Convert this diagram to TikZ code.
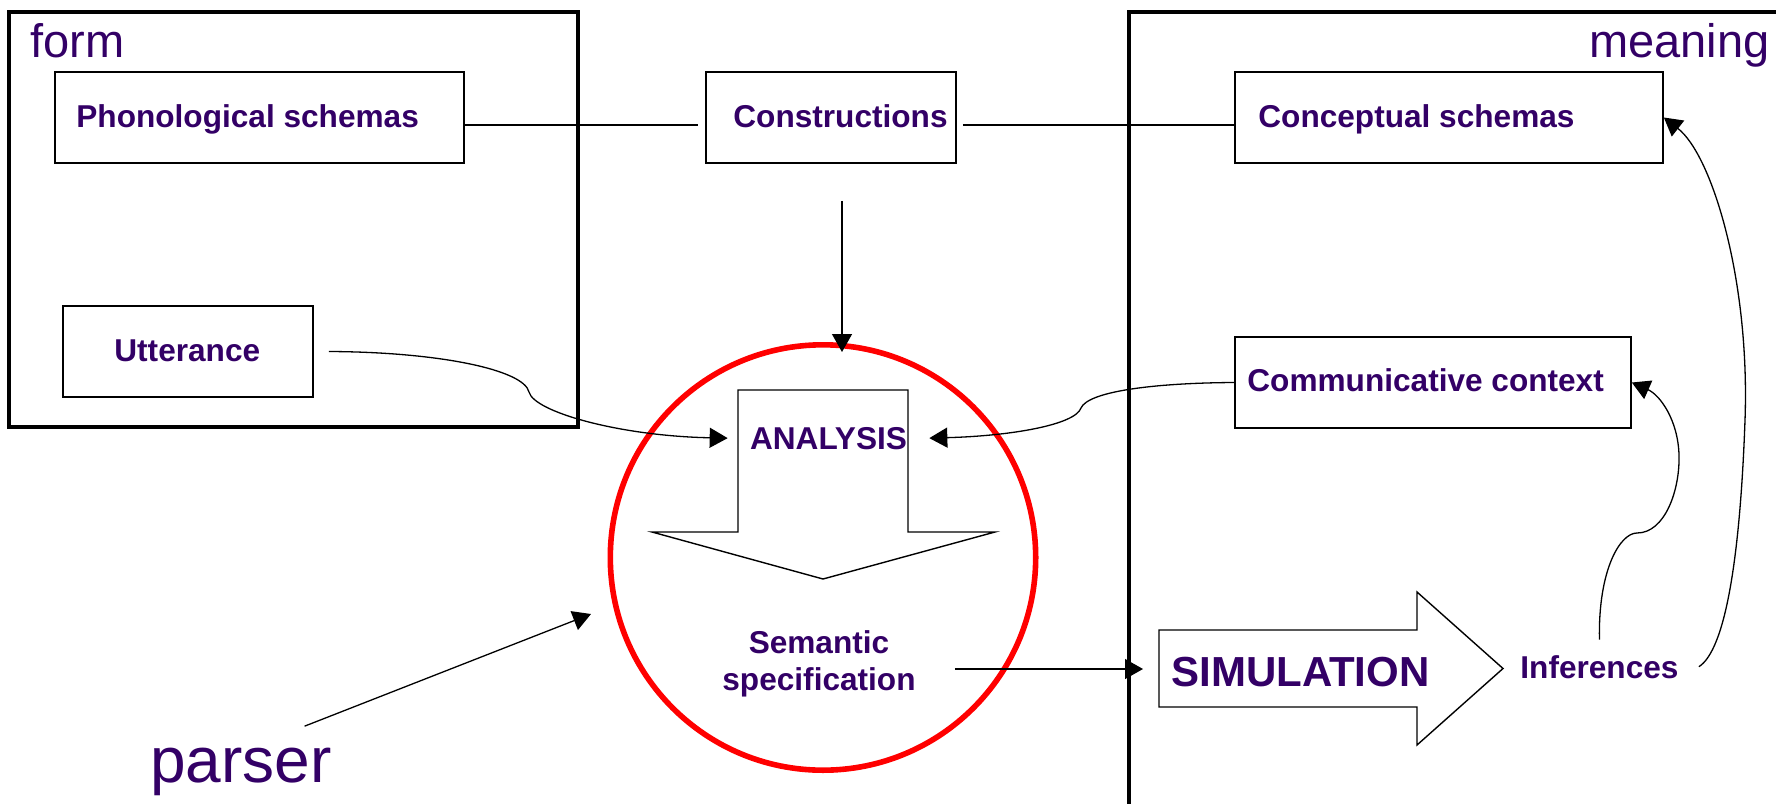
\documentclass[tikz,border=0pt]{standalone}
\usepackage{fontspec}
\setmainfont{Liberation Sans}
\usetikzlibrary{arrows.meta,fit,calc}
\definecolor{ink}{RGB}{51,0,102}
\begin{document}
\begin{tikzpicture}[x=0.5pt,y=-0.5pt,
  every node/.style={text=ink},
  lbl/.style={font=\bfseries\fontsize{15.8}{18.5}\selectfont, inner sep=0pt},
  big/.style={font=\fontsize{23.5}{28}\selectfont, inner sep=0pt},
  box/.style={draw, line width=0.8pt, inner sep=0pt},
  frame/.style={draw, line width=1.6pt, inner sep=0pt},
  conn/.style={line width=0.65pt},
  arr/.style={conn, -{Triangle[length=9pt,width=10pt]}},
  fat/.style={draw, line width=0.7pt, line join=miter},
]
\useasboundingbox (0,0) rectangle (1776,803);

% the two domains: form (closed) and meaning (open to the right and bottom)
\node[frame, fit={(9,12) (578,427)}] (formframe) {};
\draw[line width=1.6pt, line join=miter] (1129,810) -- (1129,12) -- (1780,12);
\node[big, anchor=base west] (formlbl) at (30,57) {form};
\node[big, anchor=base east] (meaninglbl) at (1770,57) {meaning};

% boxes
\node[box, fit={(55,72) (464,163)}] (phon) {};
\node[lbl, anchor=base west] (phonlbl) at (76,127) {Phonological schemas};
\node[box, fit={(706,72) (956,163)}] (constr) {};
\node[lbl, anchor=base west] (constrlbl) at (733,127) {Constructions};
\node[box, fit={(1235,72) (1663,163)}] (concept) {};
\node[lbl, anchor=base west] (conceptlbl) at (1258,127) {Conceptual schemas};
\node[box, fit={(63,306) (313,397)}] (utter) {};
\node[lbl, anchor=base west] (utterlbl) at (114,361) {Utterance};
\node[box, fit={(1235,337) (1631,428)}] (comm) {};
\node[lbl, anchor=base west] (commlbl) at (1247,391) {Communicative context};

% the parser circle
\node[draw=red, line width=2.8pt, circle, minimum size=212.7pt, inner sep=0pt] (parse) at (823,557.5) {};

% analysis block arrow
\draw[fat] (738,390) -- (908,390) -- (908,532) -- (995,532) -- (823,579) -- (652,532) -- (738,532) -- cycle;
\node[lbl, inner xsep=11pt, anchor=base] (analysis) at (828.5,449) {ANALYSIS};
\node[lbl, align=center, anchor=base] (semspec) at (819,690) {Semantic\\specification};

% simulation block arrow
\draw[fat] (1159,630) -- (1417,630) -- (1417,592) -- (1503,668.5) -- (1417,745) -- (1417,707) -- (1159,707) -- cycle;
\coordinate (simtail) at (1159,669);
\node[font=\bfseries\fontsize{21}{25}\selectfont, inner sep=0pt, anchor=base west] (sim) at (1171,686) {SIMULATION};
\node[lbl, anchor=base west] (inf) at (1520,678) {Inferences};

\node[font=\fontsize{32}{38}\selectfont, inner sep=0pt, anchor=base west] (parser) at (150,782) {parser};

% connectors
\draw[conn] ([yshift=-3.75pt]phon.east) -- ([shift={(-3.5pt,-3.75pt)}]constr.west);
\draw[conn] ([shift={(3pt,-3.75pt)}]constr.east) -- ([yshift=-3.75pt]concept.west);
\draw[arr] ([shift={(5.5pt,-18.5pt)}]constr.south) -- ([shift={(9.5pt,-5pt)}]parse.north);
\draw[arr] ([xshift=7.5pt]utter.east) .. controls (440,352) and (524,370) .. (529,392)
  .. controls (534,412) and (620,436) .. (analysis.west);
\draw[arr] (comm.west) .. controls (1150,383) and (1088,392) .. (1081,408)
  .. controls (1075,425) and (1010,436) .. (analysis.east);
\draw[arr] ($(parser.north)+(63.5,-21)$) -- ($(parse.center)+(-232,56.5)$);
\draw[arr] ($(semspec.east |- simtail)+(39,0)$) -- ($(simtail)+(-16,0)$);
\draw[arr] ($(inf.north)+(0,-15)$) .. controls (1598,570) and (1620,533) .. (1637,533)
  .. controls (1665,533) and (1680,490) .. (1679,455)
  .. controls (1678,420) and (1660,395) .. (comm.east);
\draw[arr] ([xshift=10pt]inf.east) .. controls (1725,650) and (1740,560) .. (1745,420)
  .. controls (1750,280) and (1712,155) .. (concept.east);
\end{tikzpicture}
\end{document}
